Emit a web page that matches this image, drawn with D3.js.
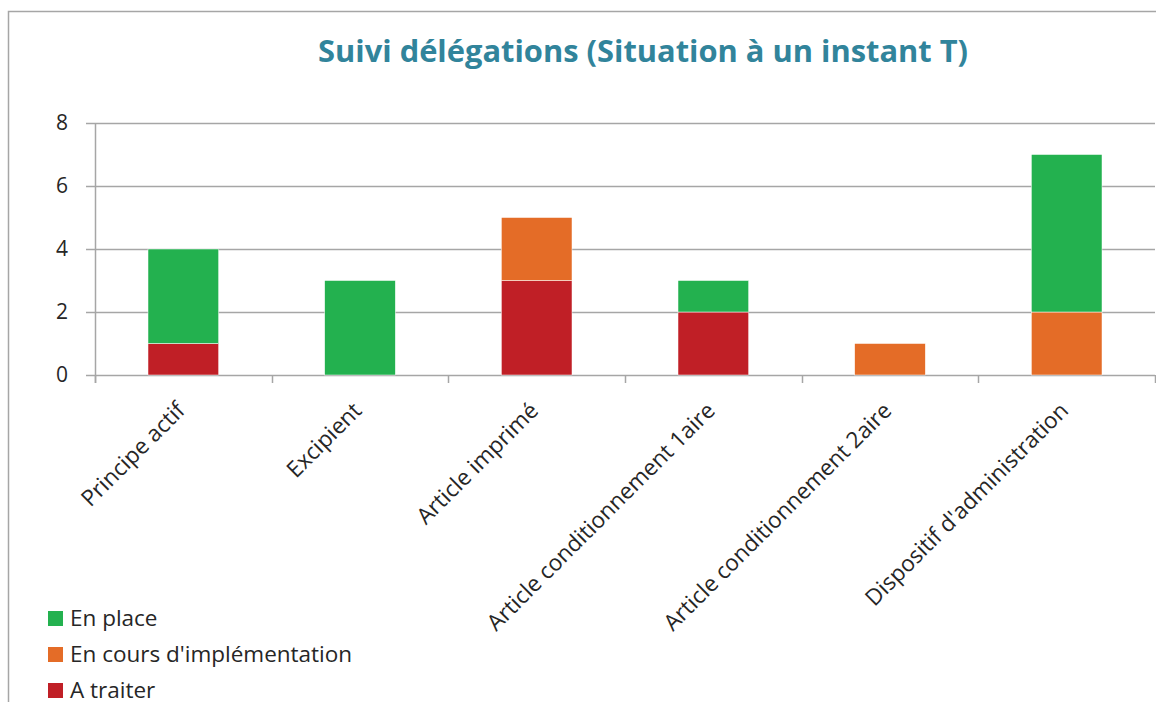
<!DOCTYPE html>
<html>
<head>
<meta charset="utf-8">
<script src="https://cdn.jsdelivr.net/npm/d3@7"></script>
<style>
  body { margin: 0; background: #fff; }
  text { font-family: "Open Sans", sans-serif; fill: #262626; }
</style>
</head>
<body>
<script>
// data
var categories = ['Principe actif', 'Excipient', 'Article imprimé',
	'Article conditionnement 1aire', 'Article conditionnement 2aire', "Dispositif d'administration"];
var enPlace = [3, 3, 0, 1, 0, 5];
var enCours = [0, 0, 2, 0, 1, 2];
var aTraiter = [1, 0, 3, 2, 0, 0];
var yTicks = [0, 2, 4, 6, 8];

// series, bottom to top
var series = [
	{ name: 'A traiter', values: aTraiter, color: '#c01f26' },
	{ name: "En cours d'implémentation", values: enCours, color: '#e46c27' },
	{ name: 'En place', values: enPlace, color: '#23b14f' }
];

var width = 1156,
	height = 702;

var svg = d3.select('body')
	.append('svg')
	.attr('width', width)
	.attr('height', height);

// chart frame (only left and top visible)
svg.append('path')
	.attr('d', 'M8.5,' + height + 'V11.5H' + width)
	.attr('fill', 'none')
	.attr('stroke', '#a6a6a6')
	.attr('stroke-width', 1.5);

var plot = { left: 95, right: 1155, top: 123, bottom: 375 };

var x = d3.scaleBand()
	.domain(categories)
	.range([plot.left, plot.right])
	.paddingInner(0.6)
	.paddingOuter(0.3);

var y = d3.scaleLinear()
	.domain([0, 8])
	.range([plot.bottom, plot.top]);

// gridlines
svg.append('g')
	.selectAll('line')
	.data(yTicks)
	.enter().append('line')
	.attr('x1', plot.left - 9)
	.attr('x2', plot.right)
	.attr('y1', function(d) { return Math.round(y(d)) + 0.5; })
	.attr('y2', function(d) { return Math.round(y(d)) + 0.5; })
	.attr('stroke', '#a6a6a6')
	.attr('stroke-width', 1.5);

// y axis line
svg.append('line')
	.attr('x1', plot.left + 0.5).attr('x2', plot.left + 0.5)
	.attr('y1', plot.top).attr('y2', plot.bottom + 8)
	.attr('stroke', '#a6a6a6')
	.attr('stroke-width', 1.5);

// y labels
svg.append('g')
	.selectAll('text')
	.data(yTicks)
	.enter().append('text')
	.attr('x', 68)
	.attr('y', function(d) { return y(d); })
	.attr('dy', '0.35em')
	.attr('text-anchor', 'end')
	.style('font-size', '21px')
	.text(function(d) { return d; });

// category boundary ticks on the x axis
var boundaries = d3.range(categories.length + 1).map(function(i) {
	return plot.left + i * (plot.right - plot.left) / categories.length;
});
svg.append('g')
	.selectAll('line')
	.data(boundaries)
	.enter().append('line')
	.attr('x1', function(d) { return Math.round(d) + 0.5; })
	.attr('x2', function(d) { return Math.round(d) + 0.5; })
	.attr('y1', plot.bottom)
	.attr('y2', plot.bottom + 8)
	.attr('stroke', '#a6a6a6')
	.attr('stroke-width', 1.5);

// stacked bars
var stacked = [];
categories.forEach(function(c, i) {
	var base = 0;
	series.forEach(function(s) {
		var v = s.values[i];
		if (v > 0) stacked.push({ cat: c, y0: base, y1: base + v, color: s.color });
		base += v;
	});
});

svg.append('g')
	.selectAll('rect')
	.data(stacked)
	.enter().append('rect')
	.attr('x', function(d) { return x(d.cat); })
	.attr('width', x.bandwidth())
	.attr('y', function(d) { return y(d.y1); })
	.attr('height', function(d) { return y(d.y0) - y(d.y1); })
	.attr('fill', function(d) { return d.color; })
	.attr('stroke', '#fff')
	.attr('stroke-width', 0.5);

// x labels, rotated
svg.append('g')
	.selectAll('text')
	.data(categories)
	.enter().append('text')
	.attr('transform', function(d) {
		var cx = x(d) + x.bandwidth() / 2;
		return 'translate(' + (cx + 3) + ',' + 412 + ') rotate(-45)';
	})
	.attr('text-anchor', 'end')
	.style('font-size', '22.5px')
	.text(function(d) { return d; });

// title
svg.append('text')
	.attr('x', 643)
	.attr('y', 62)
	.attr('text-anchor', 'middle')
	.attr('textLength', 650)
	.attr('lengthAdjust', 'spacingAndGlyphs')
	.style('font-size', '31px')
	.style('font-weight', 'bold')
	.style('fill', '#31849b')
	.text('Suivi délégations (Situation à un instant T)');

// legend, top to bottom
var legendItems = series.slice().reverse();
var legend = svg.append('g')
	.selectAll('g')
	.data(legendItems)
	.enter().append('g')
	.attr('transform', function(d, i) { return 'translate(48,' + (611 + i * 36) + ')'; });
legend.append('rect')
	.attr('width', 15)
	.attr('height', 15)
	.attr('fill', function(d) { return d.color; });
legend.append('text')
	.attr('x', 22)
	.attr('y', 7.5)
	.attr('dy', '0.35em')
	.style('font-size', '22.5px')
	.text(function(d) { return d.name; });
</script>
</body>
</html>
